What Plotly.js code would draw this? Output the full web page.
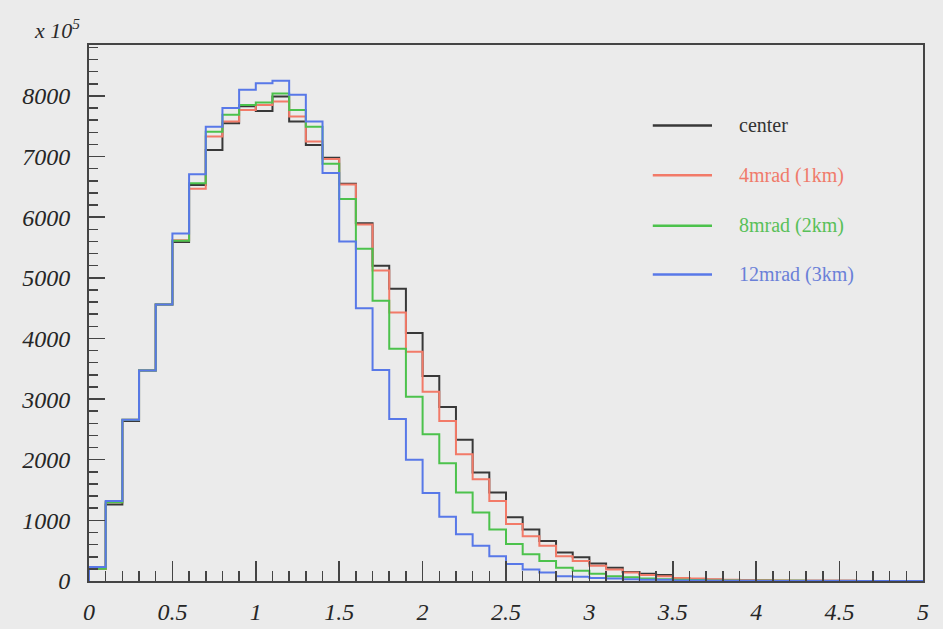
<!DOCTYPE html>
<html>
<head>
<meta charset="utf-8">
<script src="https://cdn.plot.ly/plotly-3.0.1.min.js"></script>
<style>
  html, body { margin: 0; padding: 0; background: #ebebeb; }
  #chart { width: 943px; height: 629px; }
</style>
</head>
<body>
<div id="chart"></div>
<script>
// Histogram: 50 bins of width 0.1 from 0 to 5 (counts, axis in units of 10^5)
const binStart = 0;
const binWidth = 0.1;

const seriesNames = ["center", "4mrad (1km)", "8mrad (2km)", "12mrad (3km)"];
const seriesColors = ["#383838", "#f27a68", "#4cc24c", "#5878e8"];
const labelColors = ["#333333", "#f07a6a", "#58c058", "#6a80d8"];

const center = [200, 1260, 2640, 3470, 4560, 5590, 6530, 7110, 7550, 7830,
                7750, 7990, 7580, 7190, 6980, 6550, 5900, 5200, 4820, 4090,
                3380, 2870, 2330, 1790, 1460, 1050, 850, 660, 470, 390,
                290, 220, 150, 120, 100, 40, 30, 20, 15, 10,
                8, 6, 5, 4, 3, 3, 2, 2, 1, 1];
const mrad4 = [200, 1300, 2660, 3470, 4560, 5620, 6470, 7330, 7580, 7770,
               7850, 7910, 7660, 7250, 6960, 6540, 5880, 5120, 4430, 3780,
               3120, 2640, 2090, 1680, 1320, 940, 740, 580, 410, 330,
               250, 190, 140, 100, 80, 50, 40, 30, 20, 15,
               10, 8, 6, 5, 4, 3, 2, 2, 1, 1];
const mrad8 = [200, 1300, 2660, 3470, 4560, 5610, 6560, 7410, 7690, 7850,
               7890, 8040, 7770, 7490, 6880, 6300, 5480, 4620, 3830, 3040,
               2420, 1940, 1460, 1130, 850, 610, 440, 330, 220, 170,
               120, 80, 60, 40, 30, 20, 15, 10, 8, 5,
               4, 3, 3, 2, 2, 1, 1, 1, 1, 0];
const mrad12 = [230, 1320, 2660, 3470, 4560, 5730, 6710, 7490, 7800, 8100,
                8210, 8250, 8020, 7580, 6730, 5600, 4500, 3480, 2670, 2000,
                1450, 1060, 770, 580, 410, 280, 190, 140, 80, 70,
                50, 40, 30, 20, 20, 10, 10, 5, 5, 3,
                2, 2, 1, 1, 1, 1, 0, 0, 0, 0];
const allSeries = [center, mrad4, mrad8, mrad12];

const xTickLabelsStep = 0.5;

function stepTrace(values, name, color) {
  const xs = [binStart];
  const ys = [0];
  for (let i = 0; i < values.length; i++) {
    xs.push(binStart + i * binWidth);
    ys.push(values[i]);
  }
  xs.push(binStart + values.length * binWidth);
  ys.push(values[values.length - 1]);
  return {
    type: "scatter", mode: "lines", x: xs, y: ys, name: name,
    line: { shape: "hv", color: color, width: 2 },
    showlegend: false, hoverinfo: "skip"
  };
}

const traces = allSeries.map((v, i) => stepTrace(v, seriesNames[i], seriesColors[i]));

// manual legend (paper coordinates)
const legX0 = 0.676, legX1 = 0.747, legTextX = 0.777;
const legY = [0.850, 0.757, 0.663, 0.572];
const shapes = [];
const annotations = [];
seriesNames.forEach((n, i) => {
  shapes.push({ type: "line", xref: "paper", yref: "paper",
    x0: legX0, x1: legX1, y0: legY[i], y1: legY[i],
    line: { color: seriesColors[i], width: 2.5 } });
  annotations.push({ xref: "paper", yref: "paper", x: legTextX, y: legY[i],
    xanchor: "left", yanchor: "middle", showarrow: false, text: n,
    font: { family: "Liberation Serif", size: 20, color: labelColors[i] } });
});
annotations.push({ xref: "paper", yref: "paper", x: -0.068, y: 1.03,
  xanchor: "left", yanchor: "middle", showarrow: false,
  text: "x 10<sup>5</sup>",
  font: { family: "Liberation Serif", size: 22, color: "#2a2a2a", style: "italic" } });

const axisFont = { family: "Liberation Serif", size: 24, color: "#262626", style: "italic" };

const layout = {
  width: 943, height: 629,
  paper_bgcolor: "#ebebeb", plot_bgcolor: "#ebebeb",
  margin: { l: 89, r: 20, t: 45, b: 48 },
  showlegend: false,
  xaxis: {
    range: [0, 5], showgrid: false, zeroline: false,
    showline: true, linecolor: "#444", linewidth: 2, mirror: true,
    ticks: "inside", ticklen: 20, tickwidth: 1.5, tickcolor: "#444",
    dtick: xTickLabelsStep, tick0: 0,
    minor: { dtick: 0.1, ticks: "inside", ticklen: 10, tickwidth: 1.5, tickcolor: "#444" },
    tickfont: axisFont, ticklabelstandoff: 8
  },
  yaxis: {
    range: [0, 8840], showgrid: false, zeroline: false,
    showline: true, linecolor: "#444", linewidth: 2, mirror: true,
    ticks: "inside", ticklen: 16, tickwidth: 1.5, tickcolor: "#444",
    dtick: 1000, tick0: 0,
    minor: { dtick: 200, ticks: "inside", ticklen: 9, tickwidth: 1.5, tickcolor: "#444" },
    tickfont: axisFont, ticklabelstandoff: 12
  },
  shapes: shapes,
  annotations: annotations
};

Plotly.newPlot("chart", traces, layout, { displayModeBar: false, staticPlot: true });
</script>
</body>
</html>
